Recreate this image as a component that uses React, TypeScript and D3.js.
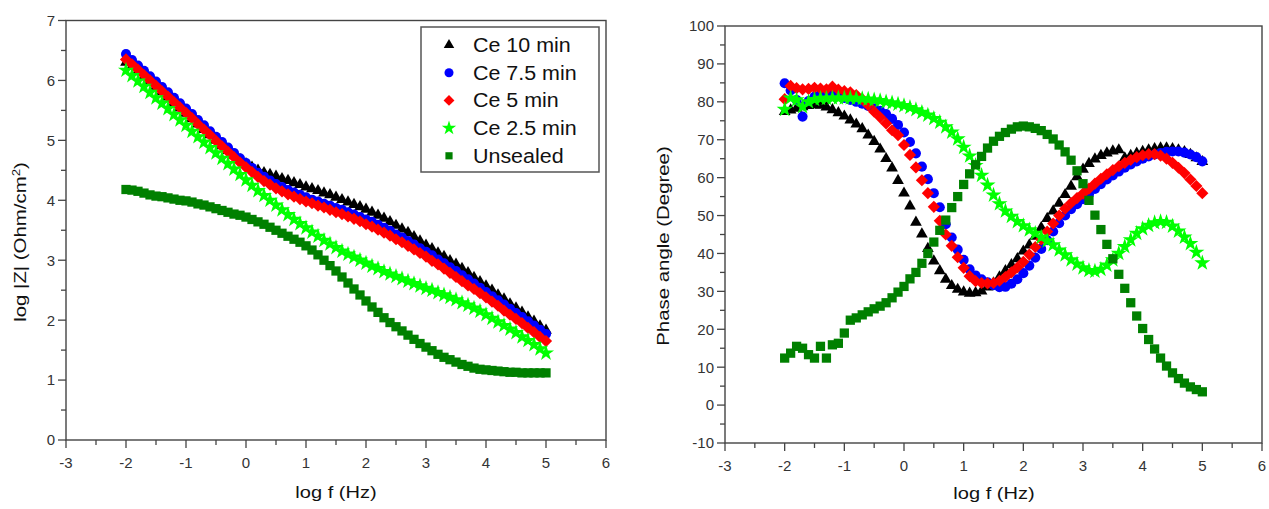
import React from 'react';
import * as d3 from 'd3';

// ---------- DATA ----------
const logF = [
  -2.0, -1.9, -1.8, -1.7, -1.6, -1.5, -1.4, -1.3, -1.2, -1.1,
  -1.0, -0.9, -0.8, -0.7, -0.6, -0.5, -0.4, -0.3, -0.2, -0.1,
  0.0, 0.1, 0.2, 0.3, 0.4, 0.5, 0.6, 0.7, 0.8, 0.9,
  1.0, 1.1, 1.2, 1.3, 1.4, 1.5, 1.6, 1.7, 1.8, 1.9,
  2.0, 2.1, 2.2, 2.3, 2.4, 2.5, 2.6, 2.7, 2.8, 2.9,
  3.0, 3.1, 3.2, 3.3, 3.4, 3.5, 3.6, 3.7, 3.8, 3.9,
  4.0, 4.1, 4.2, 4.3, 4.4, 4.5, 4.6, 4.7, 4.8, 4.9, 5.0,
];

const seriesNames = ['Ce 10 min', 'Ce 7.5 min', 'Ce 5 min', 'Ce 2.5 min', 'Unsealed'];

// log |Z|
const zCe10 = [
  6.30, 6.24, 6.16, 6.07, 5.99, 5.90, 5.81, 5.72, 5.63, 5.54,
  5.45, 5.36, 5.27, 5.18, 5.09, 5.00, 4.91, 4.83, 4.75, 4.68,
  4.61, 4.55, 4.50, 4.46, 4.43, 4.40, 4.36, 4.33, 4.29, 4.26,
  4.22, 4.19, 4.16, 4.12, 4.09, 4.05, 4.01, 3.97, 3.93, 3.89,
  3.85, 3.80, 3.75, 3.70, 3.64, 3.58, 3.52, 3.46, 3.39, 3.32,
  3.25, 3.19, 3.12, 3.06, 2.99, 2.93, 2.86, 2.79, 2.71, 2.64,
  2.57, 2.50, 2.42, 2.35, 2.27, 2.20, 2.13, 2.05, 1.98, 1.90, 1.83,
];
const zCe75 = [
  6.44, 6.34, 6.25, 6.16, 6.07, 5.98, 5.89, 5.80, 5.71, 5.62,
  5.53, 5.44, 5.34, 5.25, 5.15, 5.06, 4.97, 4.88, 4.79, 4.70,
  4.62, 4.54, 4.46, 4.39, 4.33, 4.27, 4.22, 4.17, 4.13, 4.09,
  4.05, 4.01, 3.98, 3.94, 3.91, 3.87, 3.84, 3.80, 3.76, 3.72,
  3.68, 3.64, 3.59, 3.54, 3.49, 3.43, 3.38, 3.32, 3.26, 3.20,
  3.14, 3.08, 3.01, 2.95, 2.88, 2.82, 2.75, 2.68, 2.61, 2.54,
  2.47, 2.40, 2.33, 2.26, 2.19, 2.12, 2.05, 1.98, 1.91, 1.84, 1.77,
];
const zCe5 = [
  6.35, 6.27, 6.18, 6.09, 6.00, 5.91, 5.82, 5.73, 5.64, 5.55,
  5.46, 5.37, 5.27, 5.18, 5.09, 4.99, 4.90, 4.81, 4.72, 4.63,
  4.55, 4.47, 4.39, 4.32, 4.26, 4.20, 4.15, 4.10, 4.06, 4.02,
  3.98, 3.95, 3.91, 3.88, 3.84, 3.80, 3.77, 3.73, 3.69, 3.65,
  3.60, 3.56, 3.51, 3.46, 3.41, 3.35, 3.30, 3.24, 3.18, 3.12,
  3.06, 2.99, 2.93, 2.86, 2.79, 2.72, 2.65, 2.58, 2.52, 2.45,
  2.38, 2.31, 2.24, 2.16, 2.09, 2.02, 1.95, 1.87, 1.80, 1.72, 1.65,
];
const zCe25 = [
  6.17, 6.08, 5.99, 5.90, 5.80, 5.71, 5.62, 5.53, 5.43, 5.34,
  5.25, 5.15, 5.06, 4.97, 4.88, 4.79, 4.70, 4.61, 4.52, 4.43,
  4.34, 4.25, 4.16, 4.08, 4.00, 3.92, 3.84, 3.76, 3.68, 3.61,
  3.54, 3.47, 3.40, 3.33, 3.27, 3.21, 3.15, 3.10, 3.05, 3.00,
  2.95, 2.90, 2.86, 2.81, 2.77, 2.73, 2.69, 2.65, 2.61, 2.57,
  2.53, 2.50, 2.46, 2.42, 2.38, 2.34, 2.29, 2.25, 2.20, 2.15,
  2.09, 2.03, 1.97, 1.91, 1.85, 1.79, 1.72, 1.66, 1.59, 1.52, 1.45,
];
const zUnsealed = [
  4.18, 4.17, 4.15, 4.12, 4.09, 4.07, 4.06, 4.04, 4.02, 4.00,
  3.99, 3.97, 3.94, 3.92, 3.89, 3.86, 3.83, 3.80, 3.77, 3.75,
  3.72, 3.68, 3.64, 3.60, 3.55, 3.50, 3.45, 3.40, 3.35, 3.30,
  3.24, 3.17, 3.09, 3.00, 2.91, 2.82, 2.72, 2.62, 2.52, 2.42,
  2.32, 2.22, 2.13, 2.04, 1.96, 1.89, 1.82, 1.75, 1.68, 1.61,
  1.55, 1.49, 1.43, 1.38, 1.34, 1.30, 1.26, 1.23, 1.20, 1.18,
  1.17, 1.16, 1.15, 1.14, 1.13, 1.13, 1.12, 1.12, 1.12, 1.12, 1.12,
];

// Phase angle (degree)
const pCe10 = [
  77.4, 77.8, 78.3, 78.7, 79.0, 79.2, 79.1, 78.6, 77.9, 77.1,
  76.2, 75.2, 74.1, 72.9, 71.2, 69.5, 67.5, 65.0, 62.5, 59.2,
  55.9, 52.5, 48.2, 45.1, 41.3, 38.0, 35.4, 33.2, 31.5, 30.5,
  29.8, 29.5, 29.6, 30.1, 31.1, 32.2, 33.8, 35.4, 37.0, 38.6,
  40.6, 42.2, 44.5, 46.8, 49.2, 51.2, 53.2, 55.5, 57.7, 60.2,
  62.2, 63.7, 64.9, 65.8, 66.5, 67.0, 67.3, 65.2, 65.8, 66.4,
  66.9, 67.3, 67.6, 67.8, 67.8, 67.6, 67.3, 66.8, 66.1, 65.2, 64.2,
];
const pCe75 = [
  84.9, 83.0, 80.5, 76.1, 80.2, 81.3, 82.0, 82.2, 82.0, 81.6,
  81.0, 80.5, 80.0, 79.5, 78.9, 78.3, 77.6, 76.8, 75.5, 73.9,
  71.9, 69.4, 66.4, 62.9, 59.6, 55.9, 52.2, 47.7, 44.2, 41.0,
  38.3, 35.8, 34.2, 33.2, 32.4, 31.6, 31.1, 31.2, 32.0, 33.2,
  34.8, 36.8, 38.9, 41.2, 43.5, 45.8, 48.0, 50.0, 51.7, 53.0,
  54.3, 55.6, 57.0, 58.3, 59.5, 60.6, 61.6, 62.6, 63.5, 64.3,
  65.0, 65.6, 66.1, 66.5, 66.8, 66.9, 66.9, 66.6, 66.1, 65.4, 64.3,
];
const pCe5 = [
  80.7, 84.2, 83.6, 83.3, 83.4, 83.7, 83.5, 83.3, 84.0, 83.2,
  82.8, 82.5, 81.8, 80.7, 79.1, 77.4, 75.9, 74.3, 72.5, 71.2,
  68.6, 66.0, 62.7, 59.3, 55.9, 52.3, 48.6, 45.0, 42.0, 39.0,
  36.2, 34.0, 32.7, 32.2, 32.1, 32.2, 32.8, 33.8, 35.0, 36.3,
  37.8, 39.7, 41.7, 43.7, 45.8, 47.9, 50.0, 51.8, 53.3, 54.6,
  55.8, 57.1, 58.4, 59.7, 60.9, 62.0, 63.0, 63.9, 64.7, 65.4,
  65.9, 66.2, 66.2, 65.8, 65.0, 63.9, 62.6, 61.2, 59.5, 57.8, 55.9,
];
const pCe25 = [
  78.0, 81.0, 80.5, 78.7, 80.0, 80.6, 80.9, 80.9, 81.0, 81.0,
  81.0, 81.0, 80.9, 80.8, 80.7, 80.5, 80.3, 80.0, 79.7, 79.4,
  79.0, 78.5, 77.9, 77.2, 76.5, 75.6, 74.6, 73.4, 72.0, 70.2,
  68.0, 65.7, 63.2, 60.6, 58.0, 55.4, 53.1, 51.2, 49.8, 48.4,
  47.3, 46.2, 45.3, 44.3, 43.3, 42.3, 40.9, 39.6, 38.3, 37.2,
  36.2, 35.5, 35.3, 35.8, 36.9, 38.3, 40.0, 41.8, 43.6, 45.3,
  46.5, 47.4, 48.1, 48.4, 48.2, 47.2, 45.9, 44.3, 42.6, 40.3, 37.5,
];
const pUnsealed = [
  12.4, 13.7, 15.5, 15.0, 13.3, 12.4, 15.5, 12.4, 15.9, 16.3,
  19.0, 22.4, 23.0, 23.8, 24.6, 25.4, 26.1, 27.0, 28.3, 29.8,
  31.3, 33.3, 35.0, 37.4, 40.0, 43.0, 46.1, 48.8, 52.1, 55.0,
  58.2, 61.0, 63.4, 65.6, 67.8, 69.6, 70.9, 71.9, 72.8, 73.4,
  73.6, 73.4, 73.0, 72.4, 71.4, 70.2, 68.6, 66.8, 64.6, 61.8,
  58.4, 54.0, 50.1, 46.3, 42.4, 38.6, 34.5, 30.8, 27.0, 23.5,
  20.2, 17.3, 14.8, 12.4, 10.3, 8.5, 7.0, 5.8, 4.8, 4.1, 3.5,
];

const xTicks = [-3, -2, -1, 0, 1, 2, 3, 4, 5, 6];
const xMinorTicks = [-2.5, -1.5, -0.5, 0.5, 1.5, 2.5, 3.5, 4.5, 5.5];
const zTicks = [0, 1, 2, 3, 4, 5, 6, 7];
const zMinorTicks = [0.5, 1.5, 2.5, 3.5, 4.5, 5.5, 6.5];
const pTicks = [-10, 0, 10, 20, 30, 40, 50, 60, 70, 80, 90, 100];
const pMinorTicks = [-5, 5, 15, 25, 35, 45, 55, 65, 75, 85, 95];

// ---------- STYLE ----------
const colors = ['#000000', '#0000ff', '#ff0000', '#00ff00', '#008000'];
const shapes = ['tri', 'circ', 'diam', 'star', 'sq'];
const FONT = "'Liberation Sans', Arial, sans-serif";
const AXIS = '#444';
const LABEL = '#333';

function markerPath(shape: string, scale: number) {
  switch (shape) {
    case 'tri': return d3.symbol(d3.symbolTriangle, 60 * scale)()!;
    case 'circ': return d3.symbol(d3.symbolCircle, 80 * scale)()!;
    case 'diam': return d3.symbol(d3.symbolSquare, 74 * scale)()!;
    case 'star': return d3.symbol(d3.symbolStar, 80 * scale)()!;
    default: return d3.symbol(d3.symbolSquare, 86 * scale)()!;
  }
}

function Marker({ shape, color, x, y, scale = 1 }: any) {
  const rot = shape === 'diam' ? ' rotate(45)' : '';
  return <path d={markerPath(shape, scale)} fill={color} transform={`translate(${x},${y})${rot}`} />;
}

function Panel({ x0, x1, y0, y1, yDomain, yTicks, yMinor, series, xTitleX, xTitleY, yTitle, yTitleX, yTitleY }: any) {
  const x = d3.scaleLinear().domain([-3, 6]).range([x0, x1]);
  const y = d3.scaleLinear().domain(yDomain).range([y1, y0]);
  return (
    <g>
      {series.map((vals: number[], si: number) => (
        <g key={si}>
          {vals.map((v, i) => (
            <Marker key={i} shape={shapes[si]} color={colors[si]} x={x(logF[i])} y={y(v)} />
          ))}
        </g>
      ))}
      <rect x={x0} y={y0} width={x1 - x0} height={y1 - y0} fill="none" stroke={AXIS} strokeWidth={1.4} />
      {xTicks.map(t => (
        <g key={'xt' + t}>
          <line x1={x(t)} x2={x(t)} y1={y1} y2={y1 + 8} stroke={AXIS} strokeWidth={1.3} />
          <text x={x(t)} y={y1 + 28} textAnchor="middle" fontSize={15} fill={LABEL} fontFamily={FONT}>{t}</text>
        </g>
      ))}
      {xMinorTicks.map(t => (
        <line key={'xm' + t} x1={x(t)} x2={x(t)} y1={y1} y2={y1 + 5} stroke={AXIS} strokeWidth={1.3} />
      ))}
      {yTicks.map((t: number) => (
        <g key={'yt' + t}>
          <line x1={x0 - 8} x2={x0} y1={y(t)} y2={y(t)} stroke={AXIS} strokeWidth={1.3} />
          <text x={x0 - 11} y={y(t)} dy="0.36em" textAnchor="end" fontSize={15} fill={LABEL} fontFamily={FONT}>{t}</text>
        </g>
      ))}
      {yMinor.map((t: number) => (
        <line key={'ym' + t} x1={x0 - 5} x2={x0} y1={y(t)} y2={y(t)} stroke={AXIS} strokeWidth={1.3} />
      ))}
      <text transform={`translate(${xTitleX},${xTitleY}) scale(1.18,1)`} textAnchor="middle" fontSize={17} fill="#111" fontFamily={FONT}>log f (Hz)</text>
      <text transform={`translate(${yTitleX},${yTitleY}) rotate(-90) scale(1.2,1)`} dy="0.35em" textAnchor="middle" fontSize={17} fill="#111" fontFamily={FONT}>{yTitle}</text>
    </g>
  );
}

export default function App() {
  const zSeries = [zCe10, zCe75, zCe5, zCe25, zUnsealed];
  const pSeries = [pCe10, pCe75, pCe5, pCe25, pUnsealed];
  return (
    <svg width={1269} height={509} style={{ position: 'absolute', left: 0, top: 0, background: '#fff' }}>
      <rect width={1269} height={509} fill="#fff" />
      <Panel x0={66} x1={606} y0={20.5} y1={440} yDomain={[0, 7]} yTicks={zTicks} yMinor={zMinorTicks}
        series={zSeries} xTitleX={336} xTitleY={498}
        yTitle={<>log |Z| (Ohm/cm<tspan dy={-6} fontSize={11}>2</tspan><tspan dy={6}>)</tspan></>}
        yTitleX={20} yTitleY={242} />
      <Panel x0={725} x1={1262} y0={26} y1={443} yDomain={[-10, 100]} yTicks={pTicks} yMinor={pMinorTicks}
        series={pSeries} xTitleX={994} xTitleY={499}
        yTitle="Phase angle (Degree)" yTitleX={663} yTitleY={246} />
      {/* legend */}
      <g>
        <rect x={421} y={27} width={178} height={145} fill="#fff" stroke="#555" strokeWidth={1.5} />
        {seriesNames.map((n, i) => (
          <g key={n}>
            <Marker shape={shapes[i]} color={colors[i]} x={449} y={45 + i * 27.7} scale={i === 4 ? 0.6 : 0.8} />
            <text transform={`translate(473,${45 + i * 27.7}) scale(1.1,1)`} dy="0.36em" fontSize={19.5} fill="#111" fontFamily={FONT}>{n}</text>
          </g>
        ))}
      </g>
    </svg>
  );
}
